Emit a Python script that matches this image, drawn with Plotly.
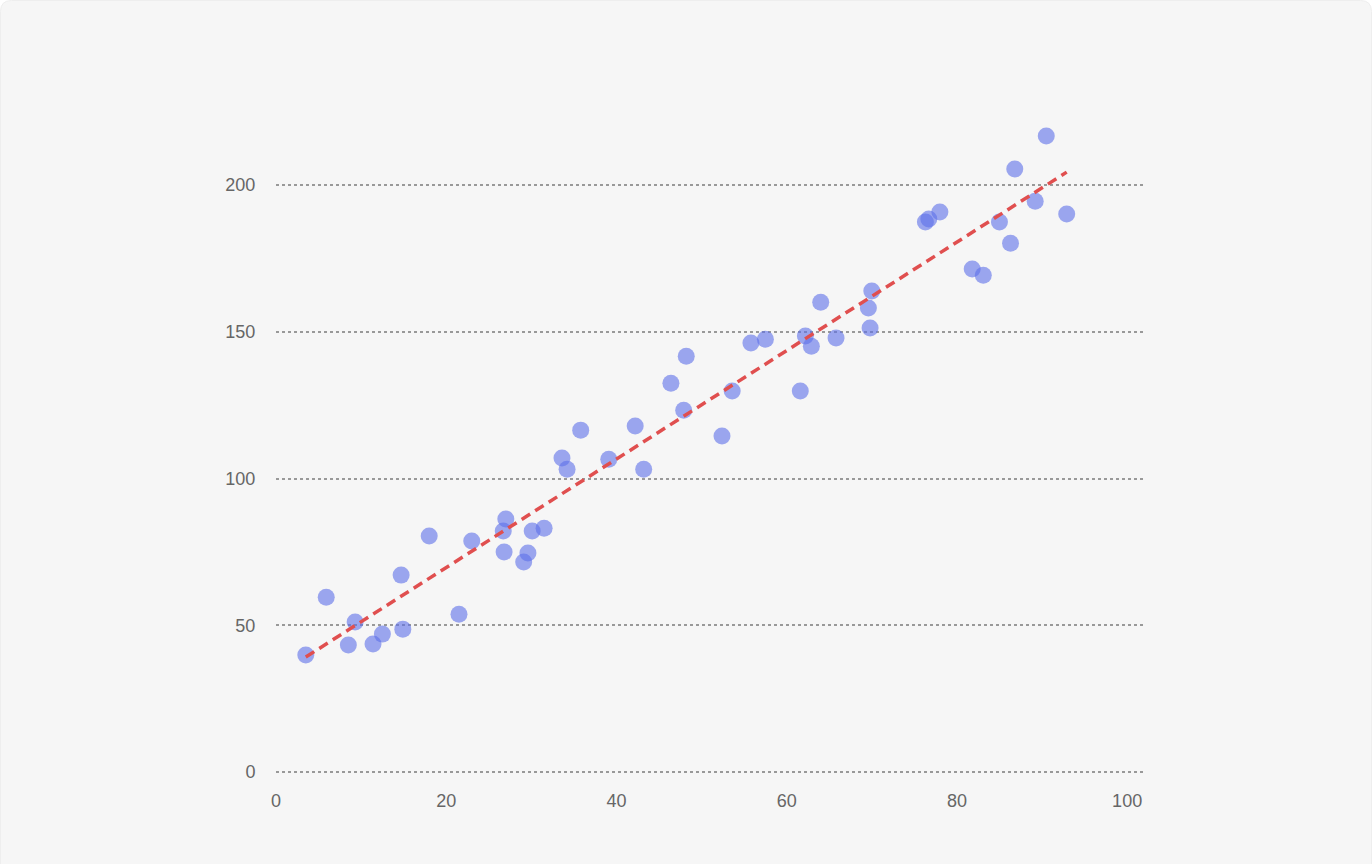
import numpy as np
import plotly.graph_objects as go

x_values = [3.5, 5.9, 8.5, 9.3, 11.4, 12.5, 14.7, 14.9, 18.0, 21.5,
            23.0, 26.7, 26.8, 27.0, 29.1, 29.6, 30.1, 31.5, 33.6, 34.2,
            35.8, 39.1, 42.2, 43.2, 46.4, 47.9, 48.2, 52.4, 53.6, 55.8,
            57.5, 61.6, 62.2, 62.9, 64.0, 65.8, 69.6, 69.8, 70.0, 76.3,
            76.7, 78.0, 81.8, 83.1, 85.0, 86.3, 86.8, 89.2, 90.5, 92.9]
y_values = [39.9, 59.6, 43.3, 51.1, 43.6, 47.0, 67.1, 48.7, 80.4, 53.8,
            78.7, 82.1, 75.0, 86.2, 71.6, 74.6, 82.1, 83.1, 107.0, 103.2,
            116.5, 106.6, 117.9, 103.2, 132.5, 123.3, 141.7, 114.5, 129.8, 146.2,
            147.5, 129.8, 148.6, 145.1, 160.1, 147.9, 158.1, 151.3, 163.9, 187.4,
            188.4, 190.8, 171.4, 169.3, 187.4, 180.2, 205.5, 194.5, 216.7, 190.1]

trend_x = [3.5, 92.9]
trend_y = [39.2, 204.4]

x_ticks = [0, 20, 40, 60, 80, 100]
y_ticks = [0, 50, 100, 150, 200]

W, H = 1372, 864
L, R, T, B = 276, 1145, 97, 775


def px_x(p):
    return (p - L) / (R - L)


def px_y(p):
    return (B - p) / (B - T)


fig = go.Figure()

fig.add_trace(go.Scatter(
    x=x_values, y=y_values, mode="markers",
    marker=dict(size=17, color="rgba(93,111,234,0.6)", line=dict(width=0)),
    showlegend=False, hoverinfo="x+y",
))
fig.add_trace(go.Scatter(
    x=trend_x, y=trend_y, mode="lines",
    line=dict(color="#e04f4f", width=3.5, dash="10px,6px"),
    showlegend=False, hoverinfo="skip",
))

# card background with rounded top corners
r = 11
x0, x1, y0, y1 = 0.5, W - 0.5, 0.5, H + 20
path = (f"M {px_x(x0)},{px_y(y1)} L {px_x(x0)},{px_y(y0 + r)} "
        f"Q {px_x(x0)},{px_y(y0)} {px_x(x0 + r)},{px_y(y0)} "
        f"L {px_x(x1 - r)},{px_y(y0)} "
        f"Q {px_x(x1)},{px_y(y0)} {px_x(x1)},{px_y(y0 + r)} "
        f"L {px_x(x1)},{px_y(y1)} Z")
fig.add_shape(type="path", path=path, xref="paper", yref="paper",
              fillcolor="#f6f6f6", line=dict(color="#eeeeee", width=1),
              layer="below")

fig.update_layout(
    width=W, height=H,
    margin=dict(l=L, r=W - R, t=T, b=H - B, pad=0),
    paper_bgcolor="white", plot_bgcolor="rgba(0,0,0,0)",
    font=dict(family="Liberation Sans, Arial, sans-serif", size=18, color="#666666"),
    xaxis=dict(range=[0, 102.1], tickvals=x_ticks, showgrid=False, zeroline=False,
               showline=False, ticks="outside", ticklen=9, tickcolor="rgba(0,0,0,0)"),
    yaxis=dict(range=[-1, 230], tickvals=y_ticks, showgrid=True, gridcolor="#999999",
               gridwidth=1.5, griddash="dot", zeroline=False, showline=False,
               ticks="outside", ticklen=16, tickcolor="rgba(0,0,0,0)"),
)

fig.write_html("out.html")
